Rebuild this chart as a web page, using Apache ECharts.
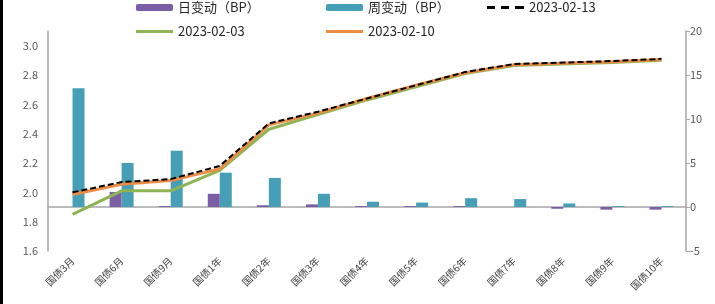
<!DOCTYPE html>
<html>
<head>
<meta charset="utf-8">
<script src="https://cdn.jsdelivr.net/npm/echarts@6/dist/echarts.min.js"></script>
<style>
  html, body { margin: 0; padding: 0; background: #fff; }
  #main { width: 715px; height: 304px; }
</style>
</head>
<body>
<div id="main"></div>
<script>
// 期限
var categories = ['国债3月', '国债6月', '国债9月', '国债1年', '国债2年', '国债3年', '国债4年',
  '国债5年', '国债6年', '国债7年', '国债8年', '国债9年', '国债10年'];
// 日变动 / 周变动 (BP, 右轴)
var dayChange = [0, 1.7, 0.1, 1.5, 0.2, 0.3, 0.1, 0.1, 0.1, 0, -0.2, -0.3, -0.3];
var weekChange = [13.5, 5.0, 6.4, 3.9, 3.3, 1.5, 0.6, 0.5, 1.0, 0.9, 0.4, 0.1, 0.1];
// 收益率 (%, 左轴)
var yield0213 = [2.00, 2.07, 2.09, 2.18, 2.47, 2.55, 2.64, 2.73, 2.82, 2.875, 2.885, 2.895, 2.91];
var yield0203 = [1.85, 2.01, 2.01, 2.15, 2.43, 2.53, 2.63, 2.72, 2.81, 2.865, 2.875, 2.885, 2.90];
var yield0210 = [1.985, 2.055, 2.08, 2.16, 2.46, 2.54, 2.64, 2.73, 2.815, 2.87, 2.88, 2.89, 2.905];

var font = "'Noto Sans CJK SC', 'Noto Sans', sans-serif";
var legendText = { color: '#262626', fontSize: 13, fontFamily: font };

// 图例里的线段 (不带圆点)
var dashIcon = 'path://M0,0h8v3h-8z M14,0h8v3h-8z M28,0h9v3h-9z';

var myChart = echarts.init(document.getElementById('main'));
var option = {
  animation: false,
  backgroundColor: '#fff',
  graphic: [
    { type: 'rect', left: 0, top: 0, shape: { width: 3, height: 304 }, style: { fill: '#000' } }
  ],
  legend: [
    { data: ['日变动（BP）'], left: 131, top: -4, itemWidth: 37, itemHeight: 7, textStyle: legendText },
    { data: ['周变动（BP）'], left: 321, top: -4, itemWidth: 37, itemHeight: 7, textStyle: legendText },
    { data: [{ name: '2023-02-13', icon: dashIcon }], left: 482, top: -4, itemWidth: 37, itemHeight: 3, textStyle: legendText },
    { data: [{ name: '2023-02-03', icon: 'rect' }], left: 131, top: 20, itemWidth: 37, itemHeight: 3, textStyle: legendText },
    { data: [{ name: '2023-02-10', icon: 'rect' }], left: 321, top: 20, itemWidth: 37, itemHeight: 3, textStyle: legendText }
  ],
  grid: { left: 48, right: 29, top: 31, bottom: 53 },
  xAxis: {
    type: 'category',
    data: categories,
    boundaryGap: true,
    axisLine: { lineStyle: { color: '#a6a6a6', width: 1.5 } },
    axisTick: { show: false },
    axisLabel: { rotate: 45, fontSize: 10, color: '#404040', fontFamily: font, margin: 8, interval: 0 }
  },
  yAxis: [
    {
      type: 'value',
      min: 1.6,
      max: 3.1,
      interval: 0.2,
      position: 'left',
      splitLine: { show: false },
      axisLine: { show: true, lineStyle: { color: '#a6a6a6', width: 1.5 } },
      axisTick: { show: false },
      axisLabel: {
        showMaxLabel: false, color: '#595959', fontSize: 11, fontFamily: font, margin: 10,
        formatter: function (v) { return v.toFixed(1); }
      }
    },
    {
      type: 'value',
      min: -5,
      max: 20,
      interval: 5,
      position: 'right',
      splitLine: { show: false },
      axisLine: { show: true, lineStyle: { color: '#a6a6a6', width: 1.5 } },
      axisTick: { show: true, length: 4, lineStyle: { color: '#a6a6a6' } },
      axisLabel: { color: '#595959', fontSize: 11, fontFamily: font, margin: 4 }
    }
  ],
  series: [
    {
      name: '日变动（BP）',
      type: 'bar',
      yAxisIndex: 1,
      data: dayChange,
      barWidth: 12,
      barGap: '0%',
      itemStyle: { color: '#7b5ea6' }
    },
    {
      name: '周变动（BP）',
      type: 'bar',
      yAxisIndex: 1,
      data: weekChange,
      barWidth: 12,
      barGap: '0%',
      itemStyle: { color: '#469fb6' }
    },
    {
      name: '2023-02-03',
      type: 'line',
      yAxisIndex: 0,
      data: yield0203,
      symbol: 'none',
      z: 3,
      lineStyle: { color: '#8fb455', width: 3 },
      itemStyle: { color: '#8fb455' }
    },
    {
      name: '2023-02-10',
      type: 'line',
      yAxisIndex: 0,
      data: yield0210,
      symbol: 'none',
      z: 4,
      lineStyle: { color: '#ec8d45', width: 3 },
      itemStyle: { color: '#ec8d45' }
    },
    {
      name: '2023-02-13',
      type: 'line',
      yAxisIndex: 0,
      data: yield0213,
      symbol: 'none',
      z: 5,
      lineStyle: { color: '#000', width: 2, type: [6, 3] },
      itemStyle: { color: '#000' }
    }
  ]
};
myChart.setOption(option);
</script>
</body>
</html>
